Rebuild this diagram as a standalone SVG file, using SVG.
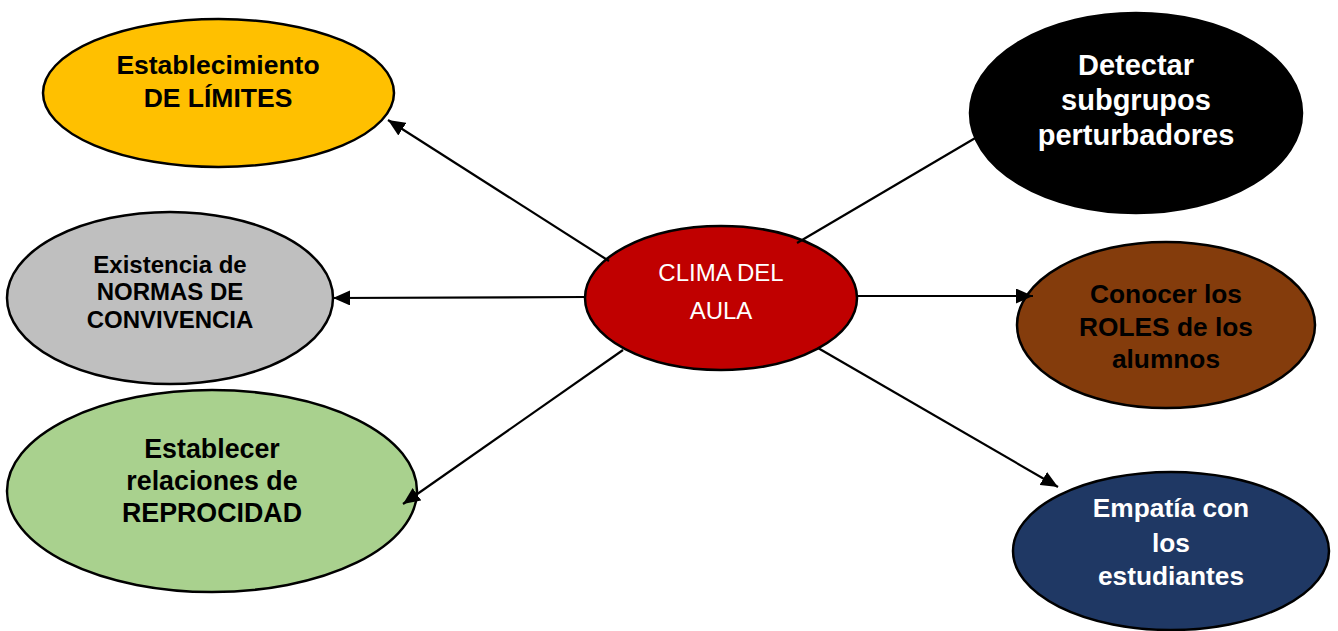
<svg xmlns="http://www.w3.org/2000/svg" width="1338" height="631" viewBox="0 0 1338 631">
<style>
.n{stroke:#000;stroke-width:2.5}
.t{font-family:"Liberation Sans",Arial,sans-serif;font-weight:bold;text-anchor:middle}
.c{stroke:#000;stroke-width:2.2;fill:none}
</style>
<defs>
<marker id="ah" markerUnits="userSpaceOnUse" markerWidth="19" markerHeight="15" refX="17" refY="7.5" orient="auto">
<path d="M0,0 L17,7.5 L0,15 Z" fill="#000"/>
</marker>
</defs>
<rect width="1338" height="631" fill="#fff"/>
<g id="n-limites">
<ellipse class="n" cx="218.5" cy="93" rx="175.5" ry="74" fill="#FFC000"/>
<text class="t" font-size="26.5" fill="#000"><tspan x="218" y="74">Establecimiento</tspan><tspan x="218" y="107">DE LÍMITES</tspan></text>
</g>
<g id="n-normas">
<ellipse class="n" cx="170" cy="298" rx="163" ry="86" fill="#BFBFBF"/>
<text class="t" font-size="24" fill="#000"><tspan x="170" y="273">Existencia de</tspan><tspan x="170" y="300">NORMAS DE</tspan><tspan x="170" y="328">CONVIVENCIA</tspan></text>
</g>
<g id="n-reprocidad">
<ellipse class="n" cx="212" cy="491" rx="205" ry="101" fill="#A9D18E"/>
<text class="t" font-size="26.8" fill="#000"><tspan x="212" y="458">Establecer</tspan><tspan x="212" y="490">relaciones de</tspan><tspan x="212" y="522">REPROCIDAD</tspan></text>
</g>
<g id="n-subgrupos">
<ellipse class="n" cx="1136" cy="113" rx="166" ry="100" fill="#000"/>
<text class="t" font-size="29" fill="#fff"><tspan x="1136" y="75">Detectar</tspan><tspan x="1136" y="110">subgrupos</tspan><tspan x="1136" y="145">perturbadores</tspan></text>
</g>
<g id="n-roles">
<ellipse class="n" cx="1166" cy="325" rx="149" ry="83" fill="#843C0C"/>
<text class="t" font-size="26.3" fill="#000"><tspan x="1166" y="303">Conocer los</tspan><tspan x="1166" y="336">ROLES de los</tspan><tspan x="1166" y="368">alumnos</tspan></text>
</g>
<g id="n-empatia">
<ellipse class="n" cx="1171" cy="551" rx="158" ry="79" fill="#1F3864"/>
<text class="t" font-size="26.3" fill="#fff"><tspan x="1171" y="517">Empatía con</tspan><tspan x="1171" y="552">los</tspan><tspan x="1171" y="585">estudiantes</tspan></text>
</g>
<g id="n-clima">
<ellipse class="n" cx="721" cy="298" rx="136" ry="72" fill="#C00000"/>
<text font-family="'Liberation Sans',Arial,sans-serif" font-size="24" fill="#fff" text-anchor="middle"><tspan x="721" y="281">CLIMA DEL</tspan><tspan x="721" y="319">AULA</tspan></text>
</g>
<g id="connectors">
<line class="c" x1="609" y1="261" x2="388" y2="120" marker-end="url(#ah)"/>
<line class="c" x1="797" y1="243" x2="977" y2="137"/>
<line class="c" x1="586" y1="297" x2="333" y2="298" marker-end="url(#ah)"/>
<line class="c" x1="857" y1="296" x2="1033" y2="296" marker-end="url(#ah)"/>
<line class="c" x1="623" y1="350" x2="403" y2="504" marker-end="url(#ah)"/>
<line class="c" x1="818" y1="348" x2="1058" y2="487" marker-end="url(#ah)"/>
</g>
</svg>
